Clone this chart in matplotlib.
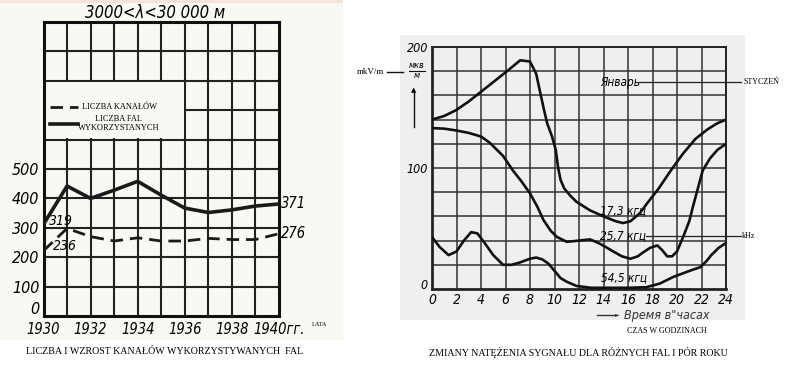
import matplotlib
matplotlib.use("Agg")
import matplotlib.pyplot as plt
import matplotlib.transforms as mtransforms
from matplotlib.patches import Rectangle

# ---- left chart: channels / waves per year
years = [1930, 1931, 1932, 1933, 1934, 1935, 1936, 1937, 1938, 1939, 1940]
waves_used = [312, 442, 400, 428, 458, 411, 367, 352, 361, 374, 381]
channels = [222, 298, 270, 255, 266, 255, 255, 264, 260, 260, 280]
year_ticks = [1930, 1932, 1934, 1936, 1938, 1940]
year_labels = ["1930", "1932", "1934", "1936", "1938", "1940гг."]
count_ticks = [0, 100, 200, 300, 400, 500]

# ---- right chart: signal strength over the day
jan_h = [0, 1, 2, 3, 4, 5, 6, 7.2, 8.0, 8.5, 8.8, 9.1, 9.4, 9.8, 10.1, 10.3, 10.5,
         10.8, 11.3, 11.8, 12.9, 14, 15, 15.6, 16.2, 17, 17.5, 18.5, 19.5, 20.5,
         21.5, 22.5, 23.3, 24]
jan_v = [140, 143, 148, 155, 163, 171, 179, 189, 188, 178, 164, 150, 137, 126, 115,
         100, 90, 83, 77, 72, 65, 60, 56, 54.5, 56, 63, 70, 83, 98, 112,
         124, 132, 137, 140]

f257_h = [0, 1, 2, 3, 4, 4.7, 5.8, 6.6, 7.3, 8, 8.6, 9.1, 9.7, 10.2, 11, 12, 12.9,
          13.6, 14.3, 14.8, 15.5, 16.2, 16.8, 17.2, 17.8, 18.4, 18.8, 19.2, 19.6,
          20, 20.5, 21, 21.3, 21.7, 22.1, 22.7, 23.3, 24]
f257_v = [133, 132.5, 131, 129, 126, 121, 110, 98, 89, 79, 68, 57, 48, 43, 39, 40, 41,
          38, 34, 31, 27, 25, 27, 30, 34, 36, 32, 27, 27,
          31, 43, 56, 68, 83, 98, 108, 115, 120]

f545_h = [0, 0.6, 1.35, 2, 2.6, 3.2, 3.7, 4.3, 5, 5.8, 6.5, 7.2, 8, 8.5, 9, 9.5, 10,
          10.5, 11, 11.8, 13, 14.3, 16, 17.5, 18.6, 19.7, 20.5, 21.3, 21.9, 22.4,
          22.8, 23.4, 24]
f545_v = [43, 35, 28, 31, 40, 47, 46, 38, 28, 20, 20, 22, 25, 26, 24.5, 21, 15,
          9, 6, 2.5, 1, 1, 1, 1.5, 4.5, 10, 13, 16, 18, 23,
          28, 34, 38]

hour_ticks = list(range(0, 25, 2))

W, H = 800, 371
fig = plt.figure(figsize=(W / 100, H / 100), dpi=100)
fig.patch.set_facecolor("white")

def fx(px):
    return px / W

def fy(py):
    return 1 - py / H

def raise_label(label, px):
    label.set_transform(label.get_transform() +
                        mtransforms.ScaledTranslation(0, px / 100, fig.dpi_scale_trans))

# scanned paper backgrounds
fig.patches.append(Rectangle((0, fy(340)), fx(343), 340 / H, transform=fig.transFigure,
                             facecolor="#faf8f3", edgecolor="none", zorder=-5))
fig.patches.append(Rectangle((0, fy(3)), fx(343), 3 / H, transform=fig.transFigure,
                             facecolor="#f6e4dc", edgecolor="none", zorder=-4))
fig.patches.append(Rectangle((fx(400), fy(320)), fx(345), 285 / H, transform=fig.transFigure,
                             facecolor="#efefef", edgecolor="none", zorder=-5))

num_font = dict(family="DejaVu Sans", style="italic", stretch="condensed")
serif = dict(family="Liberation Serif")

# ================= left chart =================
ax1 = fig.add_axes([fx(43.5), fy(316), fx(235.5), 294 / H])
ax1.set_facecolor("none")
ax1.set_xlim(1930, 1940)
ax1.set_ylim(0, 1000)
for y in range(100, 1000, 100):
    ax1.axhline(y, color="#222222", lw=1.5, zorder=1)
for x in range(1931, 1940):
    ax1.axvline(x, color="#222222", lw=1.5, zorder=1)
for s in ax1.spines.values():
    s.set_linewidth(2.2)
    s.set_color("#111111")
# legend box covers the grid
ax1.add_patch(Rectangle((1930.03, 604), 5.93, 192, facecolor="#faf8f3",
                        edgecolor="none", zorder=1.5))

ax1.plot(years, waves_used, color="#1a1a1a", lw=2.6, zorder=3, solid_joinstyle="round")
ax1.plot(years, channels, color="#1a1a1a", lw=2.0, dashes=(4.5, 2.5), zorder=3)

ax1.set_xticks(year_ticks)
ax1.set_xticklabels(year_labels, fontsize=10.5, **num_font)
ax1.set_yticks(count_ticks)
ax1.set_yticklabels([str(v) for v in count_ticks], fontsize=11.5, **num_font)
ax1.tick_params(length=0, pad=3)
ax1.tick_params(axis="x", pad=4)
raise_label(ax1.get_yticklabels()[0], 8)

ax1.text(1930.25, 322, "319", fontsize=10, va="center", ha="left", **num_font)
ax1.text(1930.42, 238, "236", fontsize=10, va="center", ha="left", **num_font)
ax1.text(1940.08, 381, "371", fontsize=10.5, va="center", ha="left", clip_on=False, **num_font)
ax1.text(1940.08, 282, "276", fontsize=10.5, va="center", ha="left", clip_on=False, **num_font)

# legend
ax1.plot([1930.28, 1931.46], [711, 711], color="#1a1a1a", lw=2.0, dashes=(4.5, 2.5), zorder=3)
ax1.plot([1930.28, 1931.46], [653, 653], color="#1a1a1a", lw=2.6, zorder=3)
ax1.text(1931.63, 711, "LICZBA KANAŁÓW", fontsize=6, va="center", ha="left", **serif)
ax1.text(1933.2, 655, "LICZBA FAL\nWYKORZYSTANYCH", fontsize=6, va="center", ha="center",
         linespacing=1.1, **serif)

fig.text(fx(155), fy(13), "3000<λ<30 000 м", fontsize=12, ha="center", va="center",
         **num_font)
fig.text(fx(312), fy(325), "LATA", fontsize=4.5, ha="left", va="center", **serif)
fig.text(fx(165), fy(352), "LICZBA I WZROST KANAŁÓW WYKORZYSTYWANYCH  FAL",
         fontsize=7.2, ha="center", va="center", **serif)

# ================= right chart =================
ax2 = fig.add_axes([fx(432), fy(289), fx(294), 242 / H])
ax2.set_facecolor("none")
ax2.set_xlim(0, 24)
ax2.set_ylim(0, 200)
for y in range(20, 200, 20):
    ax2.axhline(y, color="#333333", lw=1.1, zorder=1)
for x in range(2, 24, 2):
    ax2.axvline(x, color="#333333", lw=1.1, zorder=1)
for s in ax2.spines.values():
    s.set_linewidth(1.4)
    s.set_color("#222222")
ax2.spines["left"].set_linewidth(2.0)
ax2.spines["bottom"].set_linewidth(2.0)

for hh, vv in [(jan_h, jan_v), (f257_h, f257_v), (f545_h, f545_v)]:
    ax2.plot(hh, vv, color="#111111", lw=1.9, zorder=3, solid_joinstyle="round")

ax2.set_xticks(hour_ticks)
ax2.set_xticklabels([str(h) for h in hour_ticks], fontsize=10, **num_font)
ax2.set_yticks([0, 100, 200])
ax2.set_yticklabels(["0", "100", "200"], fontsize=9, **num_font)
ax2.tick_params(length=0, pad=3)
raise_label(ax2.get_yticklabels()[0], 5)

lab = dict(fontsize=8.5, va="center", ha="left", **num_font)
ax2.text(13.7, 170.5, "Январь", **lab)
ax2.text(13.7, 65, "17,3 кгц", **lab)
ax2.text(13.7, 44, "25,7 кгц", **lab)
ax2.text(13.8, 9, "54,5 кгц", **lab)
ax2.plot([16.9, 25.2], [171, 171], color="#222222", lw=0.9, clip_on=False, zorder=4)
ax2.plot([17.5, 25.2], [44, 44], color="#222222", lw=0.9, clip_on=False, zorder=4)

fig.text(fx(743), fy(82), "STYCZEŃ", fontsize=5.8, ha="left", va="center", **serif)
fig.text(fx(742), fy(236), "kHz", fontsize=5.8, ha="left", va="center", **serif)

# unit marker left of axis
fig.text(fx(357), fy(72), "mkV/m", fontsize=6.5, ha="left", va="center", **serif)
fig.add_artist(plt.Line2D([fx(387), fx(403)], [fy(72), fy(72)], color="#111111", lw=1.0))
fig.text(fx(417), fy(66), "мкв", fontsize=6.5, ha="center", va="center", **num_font)
fig.add_artist(plt.Line2D([fx(409), fx(425)], [fy(71), fy(71)], color="#111111", lw=0.8))
fig.text(fx(417), fy(76), "м", fontsize=6.5, ha="center", va="center", **num_font)
fig.add_artist(plt.Line2D([fx(414), fx(414)], [fy(127), fy(92)], color="#111111", lw=1.0))
fig.text(fx(414), fy(90), "▲", fontsize=5, ha="center", va="center", family="DejaVu Sans")

fig.add_artist(plt.Line2D([fx(597), fx(615)], [fy(315), fy(315)], color="#333333", lw=1.0))
fig.text(fx(617), fy(315), "►", fontsize=4.5, ha="center", va="center",
         color="#333333", family="DejaVu Sans")
fig.text(fx(624), fy(315), "Время в\"часах", fontsize=9, ha="left", va="center",
         color="#333333", **num_font)
fig.text(fx(667), fy(331), "CZAS W GODZINACH", fontsize=5.8, ha="center", va="center", **serif)
fig.text(fx(578), fy(353), "ZMIANY NATĘŻENIA SYGNAŁU DLA RÓŻNYCH FAL I PÓR ROKU",
         fontsize=7.2, ha="center", va="center", **serif)

fig.savefig("out.png", dpi=100)
